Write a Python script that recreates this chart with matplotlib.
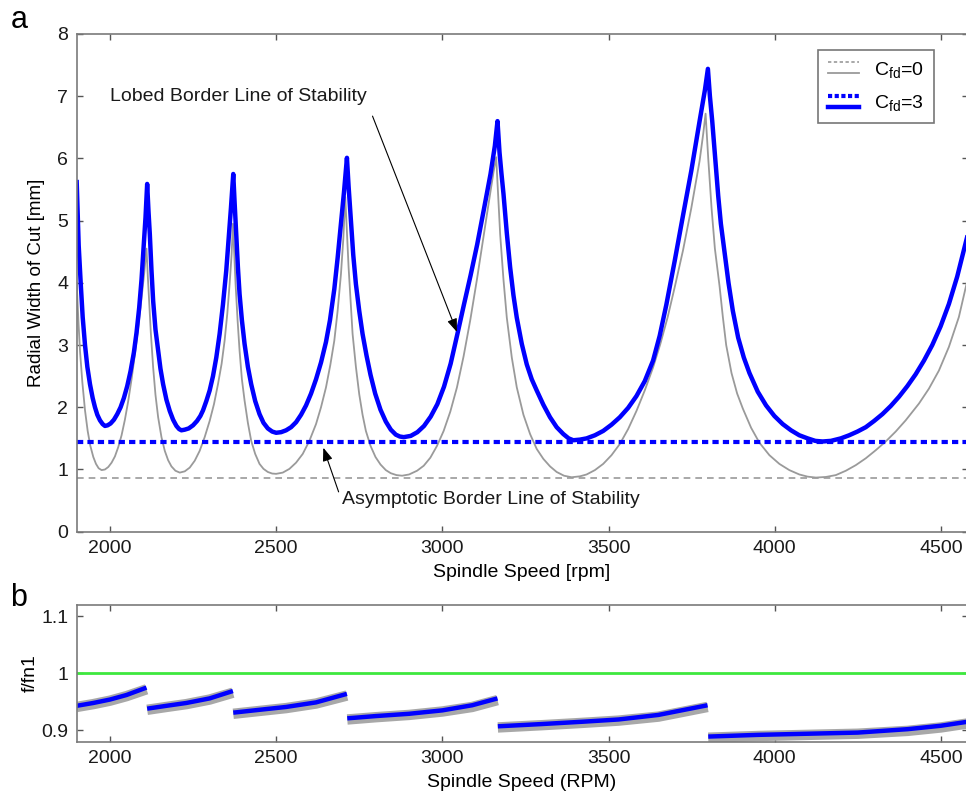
import matplotlib
matplotlib.use("Agg")
import matplotlib.pyplot as plt
from matplotlib.lines import Line2D
from matplotlib.legend_handler import HandlerBase

plt.rcParams['font.family'] = ['Liberation Sans', 'DejaVu Sans']
plt.rcParams['mathtext.default'] = 'regular'

# ---------------- data: panel a (C_fd = 3, blue) ----------------
speed_cfd3 = [1900, 1906, 1912, 1918, 1925, 1932, 1940, 1948, 1955, 1962, 1970, 1978, 1985,
              1993, 2002, 2012, 2022, 2032, 2042, 2052, 2062, 2072, 2080, 2088, 2095, 2101, 2107, 2112,
              2116, 2120, 2125, 2130, 2137, 2145, 2152, 2160, 2170, 2180, 2190, 2200, 2208, 2215,
              2225, 2237, 2250, 2262, 2272, 2280, 2290, 2300, 2310, 2320, 2330, 2340, 2350, 2357, 2364, 2371,
              2375, 2380, 2385, 2390, 2397, 2405, 2415, 2425, 2437, 2450, 2462, 2475, 2488, 2500,
              2515, 2530, 2545, 2560, 2575, 2590, 2605, 2620, 2635, 2650, 2662, 2675, 2685, 2695, 2704, 2713,
              2718, 2725, 2732, 2740, 2750, 2760, 2772, 2784, 2798, 2814, 2830, 2845, 2860, 2872, 2884,
              2905, 2925, 2945, 2965, 2985, 3005, 3025, 3045, 3065, 3085, 3105, 3125, 3145, 3158, 3166,
              3172, 3178, 3184, 3194, 3204, 3214, 3224, 3239, 3254, 3269, 3284, 3304, 3324, 3344, 3364, 3380, 3394,
              3414, 3434, 3459, 3484, 3509, 3534, 3559, 3584, 3609, 3634, 3654, 3674, 3699, 3724, 3749, 3774, 3790, 3799,
              3805, 3812, 3818, 3824, 3830, 3838, 3849, 3861, 3874, 3890, 3907, 3924, 3949, 3974, 3999, 4024,
              4049, 4074, 4099, 4122, 4144,
              4169, 4199, 4224, 4249, 4274, 4299, 4324, 4349, 4374, 4399, 4424, 4449, 4474, 4499, 4524, 4549, 4580]
width_cfd3 = [5.62, 4.60, 4.00, 3.45, 3.00, 2.65, 2.37, 2.15, 2.00, 1.88, 1.79, 1.73, 1.70,
              1.71, 1.74, 1.80, 1.89, 2.00, 2.15, 2.34, 2.58, 2.88, 3.20, 3.60, 4.05, 4.55, 5.05, 5.59,
              5.15, 4.78, 4.20, 3.71, 3.25, 2.91, 2.62, 2.37, 2.12, 1.94, 1.80, 1.70, 1.65, 1.63,
              1.64, 1.66, 1.71, 1.78, 1.86, 1.95, 2.10, 2.27, 2.50, 2.80, 3.18, 3.65, 4.20, 4.70, 5.20, 5.75,
              5.30, 4.78, 4.25, 3.82, 3.40, 3.02, 2.65, 2.37, 2.10, 1.89, 1.75, 1.66, 1.61, 1.59,
              1.60, 1.63, 1.68, 1.76, 1.88, 2.03, 2.22, 2.45, 2.72, 3.05, 3.40, 3.90, 4.40, 4.95, 5.45, 6.01,
              5.55, 5.00, 4.45, 3.98, 3.55, 3.18, 2.83, 2.52, 2.22, 1.96, 1.77, 1.64, 1.56, 1.53, 1.52,
              1.54, 1.60, 1.70, 1.85, 2.05, 2.33, 2.70, 3.17, 3.65, 4.12, 4.62, 5.18, 5.75, 6.20, 6.60,
              6.10, 5.75, 5.43, 4.80, 4.25, 3.80, 3.44, 3.02, 2.69, 2.45, 2.27, 2.04, 1.84, 1.68, 1.57, 1.50, 1.47,
              1.48, 1.50, 1.55, 1.62, 1.72, 1.84, 1.99, 2.18, 2.42, 2.75, 3.15, 3.65, 4.35, 5.08, 5.80, 6.60, 7.10, 7.44,
              7.00, 6.60, 6.20, 5.80, 5.40, 4.95, 4.50, 4.00, 3.55, 3.12, 2.80, 2.55, 2.25, 2.03, 1.86, 1.73,
              1.63, 1.55, 1.50, 1.46, 1.45,
              1.46, 1.50, 1.55, 1.61, 1.68, 1.78, 1.89, 2.02, 2.17, 2.34, 2.53, 2.75, 3.00, 3.30, 3.66, 4.10, 4.76]

# ---------------- data: panel a (C_fd = 0, gray) ----------------
speed_cfd0 = [1900, 1905, 1910, 1917, 1925, 1933, 1941, 1950, 1958, 1966, 1975,
              1985, 1995, 2005, 2015, 2025, 2035, 2045, 2055, 2065, 2075, 2085, 2095, 2103, 2110,
              2114, 2118, 2123, 2130, 2137, 2145, 2155, 2165, 2175, 2185, 2197, 2210,
              2225, 2240, 2255, 2270, 2285, 2300, 2313, 2325, 2336, 2345, 2353, 2360, 2366, 2370,
              2374, 2378, 2384, 2390, 2397, 2405, 2415, 2425, 2437, 2450, 2462, 2475, 2488, 2500,
              2520, 2540, 2560, 2580, 2600, 2620, 2635, 2650, 2663, 2675, 2685, 2695, 2702, 2708,
              2713, 2718, 2724, 2730, 2740, 2750, 2760, 2770, 2784, 2799, 2814, 2830, 2845, 2862, 2879,
              2900, 2924, 2944, 2964, 2984, 3004, 3024, 3044, 3064, 3084, 3104, 3124, 3140, 3154, 3162,
              3168, 3174, 3184, 3194, 3209, 3224, 3244, 3264, 3284, 3304, 3324, 3344, 3366, 3389,
              3414, 3434, 3459, 3484, 3509, 3534, 3559, 3584, 3609, 3634, 3656, 3678, 3700, 3724, 3749, 3774, 3785, 3792,
              3800, 3810, 3820, 3834, 3844, 3854, 3870, 3887, 3904, 3929, 3954, 3984, 4014, 4044, 4074, 4099, 4124,
              4154, 4184, 4214, 4244, 4274, 4304, 4334, 4364, 4394, 4434, 4464, 4494, 4524, 4554, 4580]
width_cfd0 = [4.00, 3.40, 2.90, 2.40, 1.95, 1.62, 1.38, 1.20, 1.09, 1.02, 0.99,
              1.00, 1.04, 1.11, 1.21, 1.36, 1.55, 1.80, 2.10, 2.45, 2.85, 3.28, 3.75, 4.15, 4.55,
              4.10, 3.71, 3.20, 2.64, 2.20, 1.84, 1.52, 1.30, 1.15, 1.05, 0.98, 0.95,
              0.97, 1.03, 1.14, 1.30, 1.52, 1.78, 2.05, 2.37, 2.70, 3.07, 3.50, 3.98, 4.45, 4.95,
              4.45, 3.98, 3.40, 2.91, 2.45, 2.11, 1.75, 1.46, 1.25, 1.09, 1.01, 0.96, 0.935, 0.93,
              0.95, 1.01, 1.11, 1.25, 1.46, 1.73, 2.00, 2.32, 2.68, 3.07, 3.55, 4.14, 4.70, 5.38,
              4.80, 4.25, 3.70, 3.18, 2.65, 2.21, 1.88, 1.62, 1.38, 1.20, 1.08, 0.99, 0.94, 0.91, 0.90,
              0.92, 0.98, 1.06, 1.19, 1.38, 1.62, 1.93, 2.32, 2.82, 3.40, 4.05, 4.75, 5.30, 5.78, 6.02,
              5.40, 4.78, 4.05, 3.44, 2.80, 2.32, 1.88, 1.57, 1.33, 1.17, 1.05, 0.96, 0.90, 0.875,
              0.89, 0.92, 0.99, 1.09, 1.23, 1.41, 1.65, 1.94, 2.27, 2.64, 3.02, 3.45, 3.95, 4.52, 5.20, 5.96, 6.40, 6.72,
              6.00, 5.20, 4.55, 3.95, 3.45, 3.00, 2.55, 2.22, 1.98, 1.67, 1.43, 1.23, 1.09, 0.99, 0.92, 0.885, 0.87,
              0.88, 0.91, 0.98, 1.07, 1.18, 1.31, 1.45, 1.61, 1.79, 2.06, 2.30, 2.59, 2.97, 3.45, 4.05]

asym_cfd0 = 0.87
asym_cfd3 = 1.44

# ---------------- data: panel b ----------------
seg_speed = [
    [1900, 1950, 2000, 2050, 2110],
    [2112, 2170, 2230, 2300, 2370],
    [2371, 2450, 2530, 2620, 2713],
    [2714, 2800, 2900, 3000, 3090, 3166],
    [3167, 3300, 3420, 3530, 3650, 3798],
    [3800, 3950, 4100, 4250, 4400, 4500, 4580],
]
seg_f_cfd3 = [
    [0.943, 0.948, 0.954, 0.962, 0.975],
    [0.938, 0.943, 0.948, 0.956, 0.969],
    [0.931, 0.936, 0.941, 0.949, 0.964],
    [0.921, 0.925, 0.929, 0.935, 0.944, 0.956],
    [0.907, 0.911, 0.915, 0.919, 0.927, 0.944],
    [0.889, 0.892, 0.894, 0.896, 0.902, 0.908, 0.915],
]
seg_f_cfd0 = [
    [0.941, 0.946, 0.952, 0.960, 0.972],
    [0.936, 0.941, 0.946, 0.954, 0.966],
    [0.929, 0.934, 0.939, 0.947, 0.961],
    [0.919, 0.923, 0.927, 0.933, 0.941, 0.953],
    [0.905, 0.909, 0.913, 0.917, 0.924, 0.941],
    [0.887, 0.890, 0.892, 0.894, 0.899, 0.905, 0.912],
]
f_ref = 1.0

xticks = [2000, 2500, 3000, 3500, 4000, 4500]
yticks_a = [0, 1, 2, 3, 4, 5, 6, 7, 8]
yticks_b = [0.9, 1.0, 1.1]
yticklabels_b = ['0.9', '1', '1.1']

BLUE = '#0000ff'
GRAY = '#9a9a9a'
SPINE = '#7a7a7a'
FS = 14


class StackedHandler(HandlerBase):
    def create_artists(self, legend, orig_handle, xdescent, ydescent,
                       width, height, fontsize, trans):
        arts = []
        for h, yf in zip(orig_handle, (0.9, 0.1)):
            ln = Line2D([-xdescent, -xdescent + width],
                        [yf * height - ydescent] * 2)
            ln.update_from(h)
            ln.set_transform(trans)
            arts.append(ln)
        return arts


def style_axes(ax):
    for s in ax.spines.values():
        s.set_color(SPINE)
        s.set_linewidth(1.2)
    ax.tick_params(direction='in', length=4.5, width=1.0, color='#555555',
                   top=True, right=True, labelsize=FS, labelcolor='#1a1a1a', pad=6)


fig = plt.figure(figsize=(9.66, 7.98), dpi=100)
L = 76.7 / 966
W = (967.5 - 76.7) / 966
ax1 = fig.add_axes([L, 266.3 / 798, W, 497.7 / 798])
ax2 = fig.add_axes([L, 56.3 / 798, W, 136.7 / 798])

# ---- panel a ----
ax1.axhline(asym_cfd0, color=GRAY, lw=1.2, ls=(0, (4, 3)))
ax1.plot(speed_cfd0, width_cfd0, color=GRAY, lw=1.3)
ax1.axhline(asym_cfd3, color=BLUE, lw=3.0, ls=(0, (1.5, 1.0)))
ax1.plot(speed_cfd3, width_cfd3, color=BLUE, lw=3.2, solid_joinstyle='round')
ax1.set_xlim(1900, 4580)
ax1.set_ylim(0, 8)
ax1.set_xticks(xticks)
ax1.set_yticks(yticks_a)
style_axes(ax1)
ax1.set_xlabel('Spindle Speed [rpm]', fontsize=FS, labelpad=5)
ax1.set_ylabel('Radial Width of Cut [mm]', fontsize=13.5)
ax1.yaxis.set_label_coords(-0.036, 0.5)

h0 = (Line2D([], [], color=GRAY, lw=1.2, ls=(0, (2, 1.5))), Line2D([], [], color=GRAY, lw=1.3))
h3 = (Line2D([], [], color=BLUE, lw=3.0, ls=(0, (1.0, 0.6))), Line2D([], [], color=BLUE, lw=3.2))
leg = ax1.legend([h0, h3], ['C$_{fd}$=0', 'C$_{fd}$=3'],
                 handler_map={tuple: StackedHandler()},
                 loc='upper right', bbox_to_anchor=(0.962, 0.968), borderaxespad=0,
                 fontsize=FS, frameon=True, fancybox=False, handlelength=1.6,
                 labelspacing=0.7, borderpad=0.5, handletextpad=0.8)
leg.get_frame().set_edgecolor('#555555')
leg.get_frame().set_linewidth(1.2)

ax1.text(2000, 6.99, 'Lobed Border Line of Stability', fontsize=FS,
         ha='left', va='center', color='#1a1a1a')
ax1.annotate('', xy=(3044, 3.21), xytext=(2790, 6.68),
             arrowprops=dict(arrowstyle='-|>,head_length=0.8,head_width=0.3',
                             color='black', lw=0.8, shrinkA=0, shrinkB=0))
ax1.text(2698, 0.51, 'Asymptotic Border Line of Stability', fontsize=FS,
         ha='left', va='center', color='#1a1a1a')
ax1.annotate('', xy=(2642, 1.35), xytext=(2688, 0.64),
             arrowprops=dict(arrowstyle='-|>,head_length=0.8,head_width=0.3',
                             color='black', lw=0.8, shrinkA=0, shrinkB=0))

# ---- panel b ----
ax2.axhline(f_ref, color='#3de83d', lw=2.0)
for sp, fg, fb in zip(seg_speed, seg_f_cfd0, seg_f_cfd3):
    ax2.plot(sp, fg, color='#a8a8a8', lw=7.5, solid_capstyle='butt')
    ax2.plot(sp, fb, color=BLUE, lw=3.2, solid_capstyle='butt')
ax2.set_xlim(1900, 4580)
ax2.set_ylim(0.88, 1.12)
ax2.set_xticks(xticks)
ax2.set_yticks(yticks_b)
ax2.set_yticklabels(yticklabels_b)
style_axes(ax2)
ax2.set_xlabel('Spindle Speed (RPM)', fontsize=FS, labelpad=5)
ax2.set_ylabel('f/fn1', fontsize=FS)
ax2.yaxis.set_label_coords(-0.043, 0.5)

fig.text(19 / 966, 1 - 20 / 798, 'a', fontsize=22, ha='center', va='center')
fig.text(19 / 966, 1 - 598 / 798, 'b', fontsize=22, ha='center', va='center')

fig.savefig('out.png', dpi=100)
